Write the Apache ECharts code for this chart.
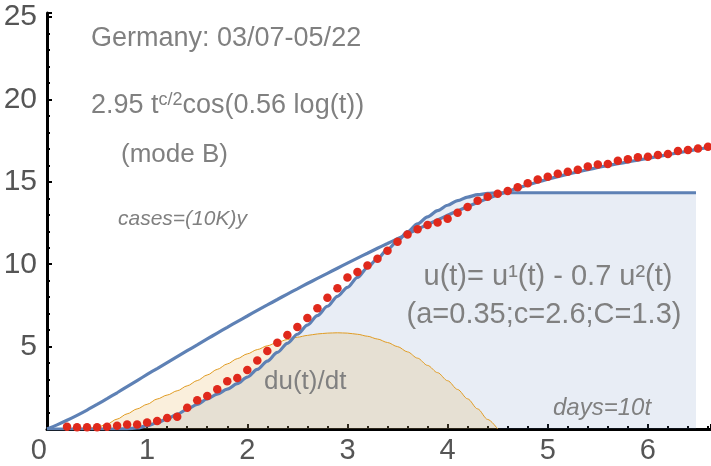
<!DOCTYPE html>
<html><head><meta charset="utf-8">
<script src="https://cdn.jsdelivr.net/npm/echarts/dist/echarts.min.js"></script>
<style>html,body{margin:0;padding:0;background:#fff}#c{width:711px;height:466px}</style>
</head><body><div id="c"></div>
<script>
// time step: one day = 0.1 t  (days = 10t)
const tStep = 0.1;

// fitted curve (smooth upper blue line), t = 0 .. 6.6
const fitValues = [0,0.25,0.53,0.83,1.15,1.49,1.84,2.2,2.57,2.94,3.31,3.67,4.03,4.39,4.75,5.11,5.47,5.82,6.17,6.52,
  6.86,7.2,7.53,7.86,8.19,8.51,8.83,9.14,9.45,9.76,10.07,10.37,10.67,10.97,11.26,11.55,11.84,12.13,12.41,12.69,
  12.97,13.24,13.5,13.75,13.99,14.21,14.42,14.62,14.81,14.99,15.16,15.32,15.47,15.61,15.74,15.87,15.99,16.1,16.21,16.32,
  16.43,16.54,16.65,16.76,16.87,16.98,17.08];

// u(t), t = 0 .. 4.5, then constant plateau
const uValues = [0,0,0,0,0,0,0,0,0.01,0.06,0.2,0.38,0.62,0.9,1.2,1.5,1.82,2.12,2.42,2.75,
  3.15,3.62,4.12,4.65,5.2,5.75,6.3,6.88,7.45,8.05,8.6,9.2,9.8,10.35,10.9,11.4,11.98,12.45,12.88,13.25,
  13.58,13.86,14.08,14.22,14.3,14.34];
const uPlateauEnd = 6.48;

// du(t)/dt, t = 0 .. 4.5
const duValues = [0,0,0,0,0.02,0.1,0.3,0.6,0.92,1.22,1.5,1.82,2.06,2.32,2.62,2.94,3.28,3.62,3.95,4.27,
  4.56,4.82,5.05,5.26,5.43,5.57,5.68,5.77,5.82,5.84,5.82,5.75,5.63,5.46,5.25,5.0,4.68,4.3,3.86,3.42,
  2.93,2.4,1.83,1.22,0.58,0];

// daily case data (red dots), t = 0.2 .. 6.6
const dotStart = 0.2;
const dotValues = [0.14,0.1,0.1,0.1,0.14,0.2,0.28,0.28,0.4,0.48,0.67,0.75,1.29,1.74,2.0,2.41,2.9,3.1,3.58,
  4.16,4.74,5.24,5.7,6.19,6.74,7.33,7.97,8.54,9.2,
  9.53,9.93,10.33,10.82,11.37,11.8,12.12,12.38,12.53,12.76,
  13.12,13.48,13.85,14.1,14.28,14.44,14.67,14.91,15.15,15.31,
  15.5,15.61,15.74,15.93,16.05,16.08,16.28,16.38,16.49,16.52,
  16.63,16.69,16.87,16.93,17.03,17.13];

const xTickLabels = ['0','1','2','3','4','5','6'];
const yTickLabels = ['5','10','15','20','25'];

const pairs = (vals, t0) => vals.map((v, i) => [+(t0 + i * tStep).toFixed(2), v]);
const fitData = pairs(fitValues, 0);
const uData = pairs(uValues, 0).concat([[uPlateauEnd, uValues[uValues.length - 1]]]);
const duData = pairs(duValues, 0);
const dotData = pairs(dotValues, dotStart);

const FONT = '"Liberation Sans", Arial, sans-serif';
const GRAY = '#808080';
const BLUE = '#5e81b5';
const ORANGE = '#e09c24';

const chart = echarts.init(document.getElementById('c'), null, {renderer: 'canvas'});

function txt(x, y, text, size, opts) {
  opts = opts || {};
  return {
    type: 'text', x: x, y: y, z: 50,
    style: {
      text: text, fill: GRAY,
      font: (opts.italic ? 'italic ' : '') + size + 'px ' + FONT,
      textAlign: opts.align || 'left', align: opts.align || 'left',
      textVerticalAlign: 'middle', verticalAlign: 'middle'
    }
  };
}

const option = {
  animation: false,
  grid: {left: 47, right: 0, top: 13, bottom: 37, containLabel: false},
  xAxis: {
    type: 'value', min: 0, max: 6.63, interval: 1,
    axisLine: {lineStyle: {color: '#000', width: 3}},
    axisTick: {show: true, inside: true, length: 5, lineStyle: {color: '#000', width: 2}},
    minorTick: {show: true, splitNumber: 5, length: 3, lineStyle: {color: '#000', width: 2}},
    splitLine: {show: false},
    axisLabel: {
      color: '#555', fontSize: 29, fontFamily: 'Liberation Sans', margin: 7,
      showMaxLabel: false, alignMinLabel: 'right',
      formatter: v => xTickLabels.indexOf(String(v)) >= 0 ? String(v) : ''
    }
  },
  yAxis: {
    type: 'value', min: 0, max: 25.25, interval: 5,
    axisLine: {show: true, lineStyle: {color: '#000', width: 3}},
    axisTick: {show: true, inside: true, length: 5, lineStyle: {color: '#000', width: 2}},
    minorTick: {show: true, splitNumber: 5, length: 3, lineStyle: {color: '#000', width: 2}},
    splitLine: {show: false},
    axisLabel: {
      color: '#555', fontSize: 30, fontFamily: 'Liberation Sans', margin: 10,
      showMaxLabel: false,
      formatter: v => yTickLabels.indexOf(String(v)) >= 0 ? String(v) : ''
    }
  },
  series: [
    {type: 'line', data: uData, smooth: 0.3, smoothMonotone: 'x', showSymbol: false, z: 1,
     lineStyle: {width: 0}, areaStyle: {color: BLUE, opacity: 0.14}},
    {type: 'line', data: duData, smooth: 0.3, smoothMonotone: 'x', showSymbol: false, z: 2,
     lineStyle: {width: 0}, areaStyle: {color: ORANGE, opacity: 0.16}},
    {type: 'line', data: duData, smooth: 0.3, smoothMonotone: 'x', showSymbol: false, z: 3,
     lineStyle: {color: ORANGE, width: 1}},
    {type: 'line', data: uData, smooth: 0.3, smoothMonotone: 'x', showSymbol: false, z: 4,
     lineStyle: {color: BLUE, width: 3.2}},
    {type: 'line', data: fitData, smooth: 0.3, showSymbol: false, z: 4,
     lineStyle: {color: BLUE, width: 3.2}},
    {type: 'scatter', data: dotData, symbolSize: 8.5, z: 5,
     itemStyle: {color: '#e0291c', opacity: 1}}
  ],
  graphic: [
    txt(91, 39, 'Germany: 03/07-05/22', 27),
    {
      type: 'text', x: 91, y: 105, z: 50,
      style: {
        text: '{b|2.95 t}{s|c/2}{b|cos(0.56 log(t))}',
        textVerticalAlign: 'middle', verticalAlign: 'middle',
        rich: {
          b: {fontSize: 27, fontFamily: 'Liberation Sans', color: GRAY, fill: GRAY, lineHeight: 28, padding: [10, 0, 0, 0], verticalAlign: 'bottom'},
          s: {fontSize: 18, fontFamily: 'Liberation Sans', color: GRAY, fill: GRAY, lineHeight: 18, verticalAlign: 'top'}
        }
      }
    },
    txt(121, 155, '(mode B)', 26),
    txt(118, 219, 'cases=(10K)y', 21, {italic: true}),
    txt(548, 277, 'u(t)= u\u00B9(t) - 0.7 u\u00B2(t)', 29, {align: 'center'}),
    txt(544, 315, '(a=0.35;c=2.6;C=1.3)', 29, {align: 'center'}),
    txt(264, 382, 'du(t)/dt', 26),
    txt(553, 408, 'days=10t', 24, {italic: true})
  ]
};
chart.setOption(option);
</script>
</body></html>
